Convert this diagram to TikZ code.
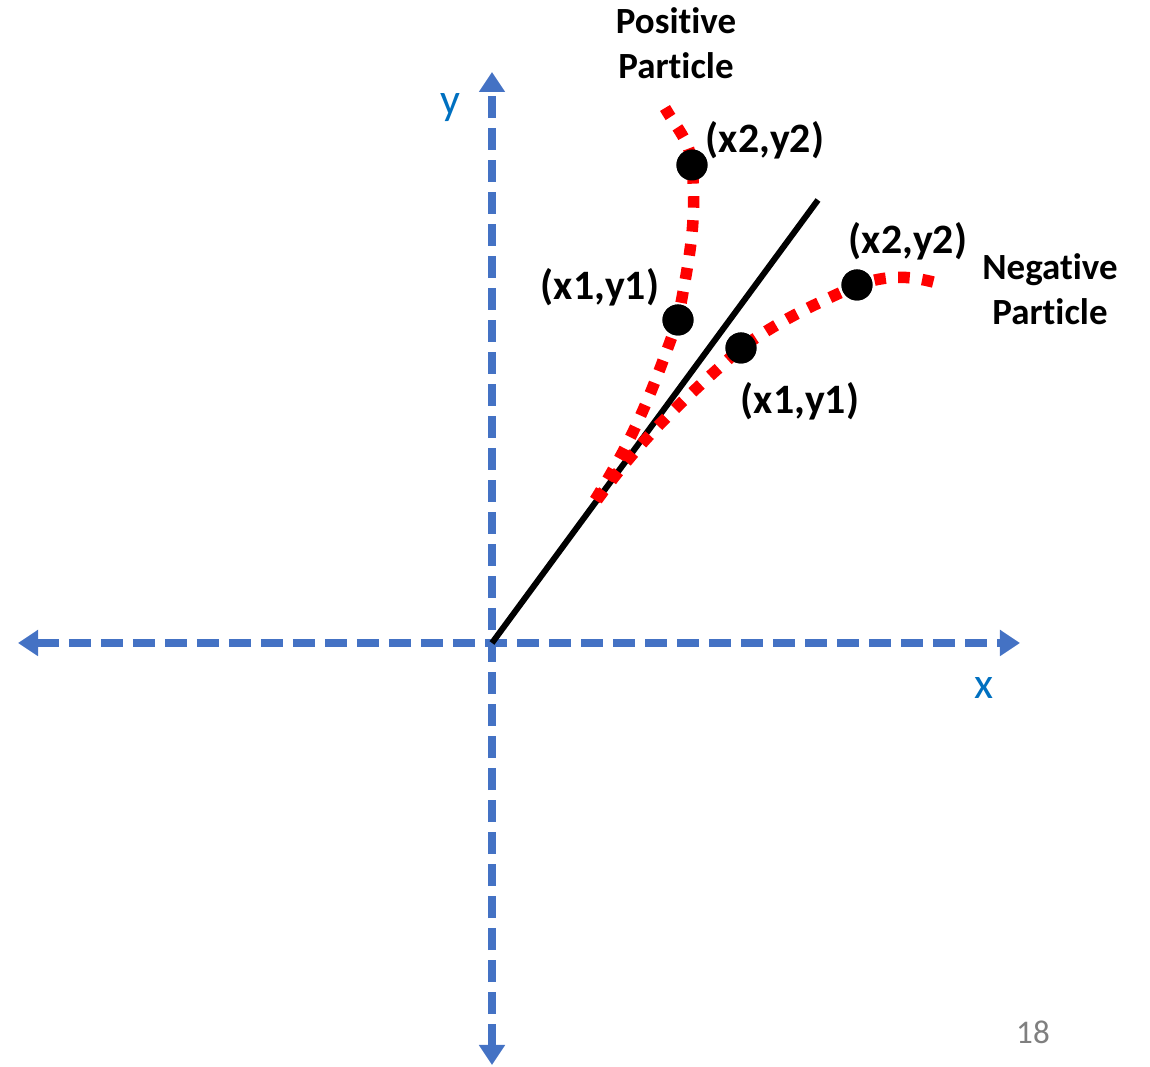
\documentclass[tikz,border=0pt]{standalone}
\usepackage{fontspec}
\setmainfont[Ligatures=NoCommon]{Carlito}
\usetikzlibrary{arrows.meta}
\definecolor{axisblue}{HTML}{4472C4}
\definecolor{labelblue}{HTML}{0070C0}
\definecolor{pagegrey}{HTML}{7F7F7F}

\begin{document}
\begin{tikzpicture}[x=0.01cm, y=0.01cm,
    axis/.style={axisblue, line width=0.075cm, dash pattern=on 0.22cm off 0.1cm,
        {Triangle[width=0.25cm,length=0.2cm]}-{Triangle[width=0.25cm,length=0.2cm]}},
    track/.style={red, line width=0.115cm, dash pattern=on 0.115cm off 0.125cm},
    dot/.style={circle, fill=black, inner sep=0pt, minimum size=0.31cm},
    coordlabel/.style={font=\fontsize{11.9}{14}\selectfont\bfseries},
    partlabel/.style={font=\fontsize{10.5}{12.8}\selectfont\bfseries, align=center}]
    \useasboundingbox (0,0) rectangle (1150,1067);

    % axes
    \coordinate (xl) at (18,424);
    \coordinate (xr) at (1020,424);
    \coordinate (yb) at (492,2);
    \coordinate (yt) at (492,995);
    \coordinate (o) at (492,424);
    \draw[axis] (xl) -- (xr);
    \draw[axis] (yb) -- (yt);
    \node[text=labelblue, font=\fontsize{12.5}{14}\selectfont] (ylab) at (450,959) {y};
    \node[text=labelblue, font=\fontsize{12.5}{14}\selectfont] (xlab) at (984,379) {x};

    % field line
    \coordinate (lend) at (818,867);
    \draw[line width=0.06cm] (o) -- (lend);

    % points
    \node[dot] (p1) at (678,747) {};
    \node[dot] (p2) at (692,902) {};
    \node[dot] (n1) at (741,719) {};
    \node[dot] (n2) at (857,782) {};
    \coordinate (pstart) at (595,567);
    \coordinate (pend) at (665,959);
    \coordinate (nstart) at (597,567);
    \coordinate (nend) at (937,784);

    % positive particle
    \draw[track] (pstart) to[out=58,in=250] (p1.center)
        to[out=80,in=-85] (p2.center) to[out=95,in=-60] (pend);
    % negative particle
    \draw[track] (nstart) to[out=54,in=222] (n1.center)
        to[out=35,in=205] (n2.center) to[out=18,in=165] (nend);
    \node[dot] at (p1) {};
    \node[dot] at (p2) {};
    \node[dot] at (n1) {};
    \node[dot] at (n2) {};

    % labels
    \node[coordlabel] (p2lab) at (765,927) {(x2,y2)};
    \node[coordlabel] (p1lab) at (600,780) {(x1,y1)};
    \node[coordlabel] (n2lab) at (908,826) {(x2,y2)};
    \node[coordlabel] (n1lab) at (800,666) {(x1,y1)};
    \node[partlabel] (pos) at (676,1024) {Positive\\Particle};
    \node[partlabel] (neg) at (1050,778) {Negative\\Particle};

    \node[text=pagegrey, font=\fontsize{9.4}{11}\selectfont] (page) at (1033,35) {18};
\end{tikzpicture}
\end{document}
